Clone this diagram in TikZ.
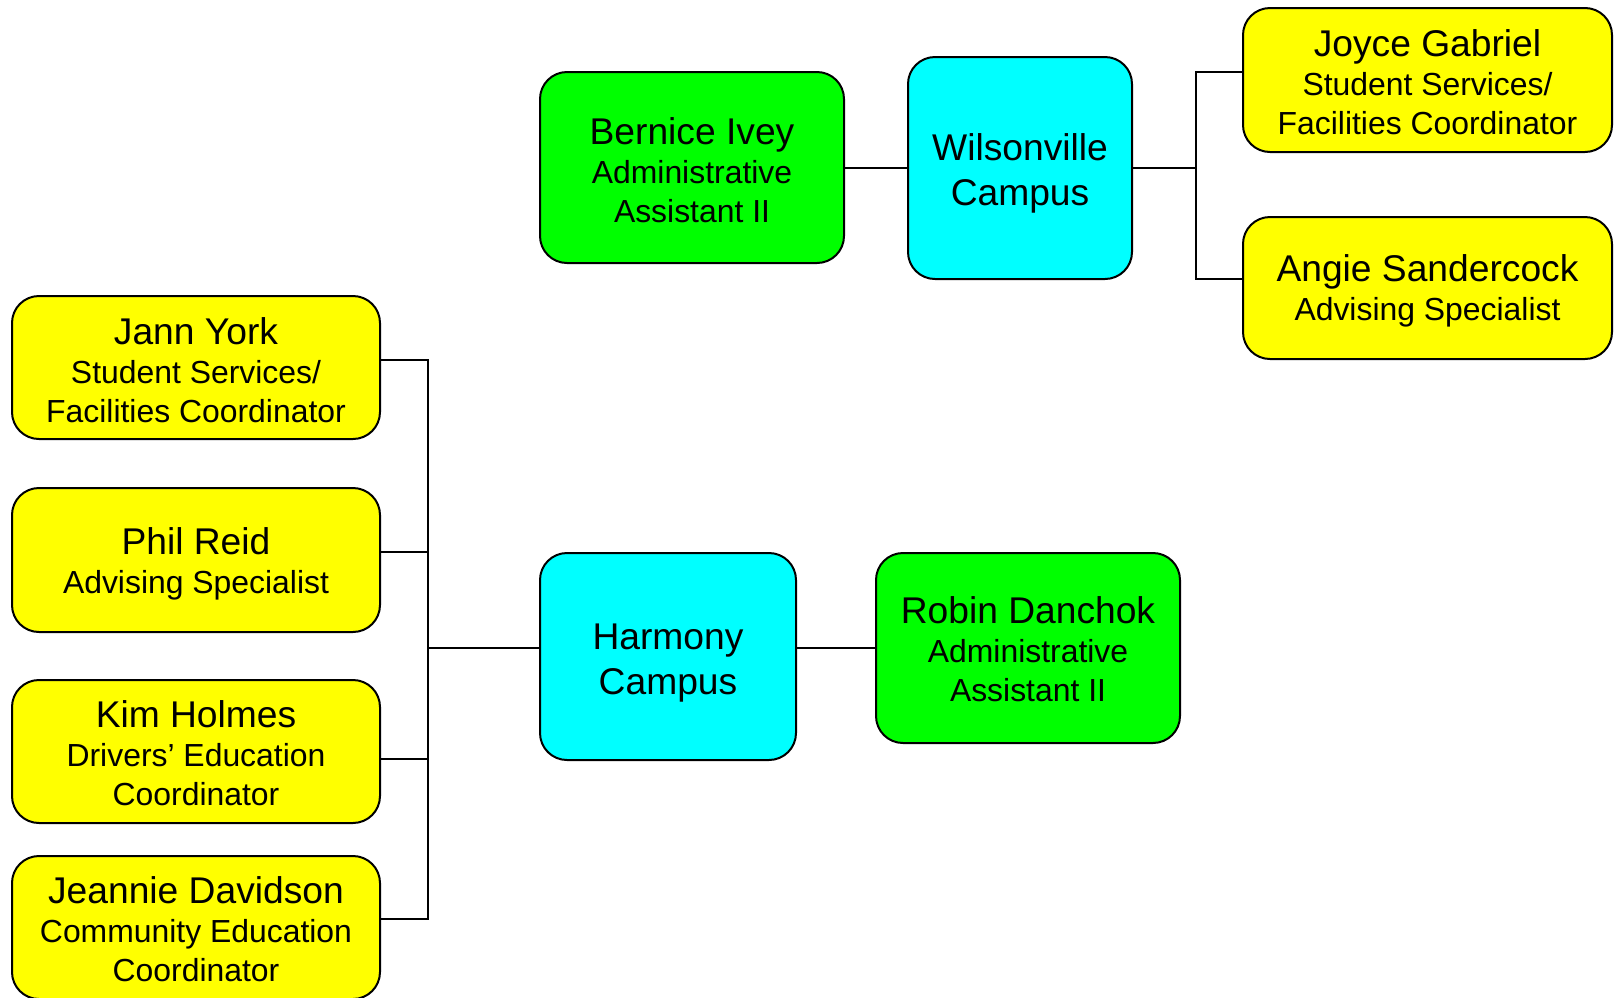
\documentclass[tikz,border=0pt]{standalone}
\usepackage{fontspec}
\setmainfont{Liberation Sans}
\definecolor{boxyellow}{HTML}{FFFF00}
\definecolor{boxgreen}{HTML}{00FF00}
\definecolor{boxcyan}{HTML}{00FFFF}
% larger first-line font for names
\newcommand{\namefont}{\fontsize{37.2}{40}\selectfont}
% invisible strut that lowers a card's text block
\newcommand{\lowered}[1]{\rule{0pt}{#1}}
\begin{document}
\begin{tikzpicture}[x=1pt,y=-1pt,
  card/.style={draw=black, line width=2pt, rounded corners=27pt, inner sep=0pt,
    align=center, font=\fontsize{31.9}{39}\selectfont},
  staff/.style={card, fill=boxyellow, minimum width=368pt, minimum height=143pt},
  assistant/.style={card, fill=boxgreen, minimum width=304pt, minimum height=191pt},
  campus/.style={card, fill=boxcyan, font=\fontsize{37.2}{45}\selectfont},
  link/.style={draw=black, line width=2pt}]
\useasboundingbox (0,0) rectangle (1614,997);

% Wilsonville group
\node[assistant] (bernice) at (692,167.5) {\lowered{32pt}{\namefont Bernice Ivey}\\Administrative\\Assistant II};
\node[campus, minimum width=224pt, minimum height=222pt] (wilson) at (1020,168) {\lowered{37pt}Wilsonville\\Campus};
\node[staff, minimum width=369pt, minimum height=144pt] (joyce) at (1427.5,80) {\lowered{31pt}{\namefont Joyce Gabriel}\\Student Services/\\Facilities Coordinator};
\node[staff, minimum width=369pt, minimum height=142pt] (angie) at (1427.5,288) {\lowered{33pt}{\namefont Angie Sandercock}\\Advising Specialist};

% Harmony group
\node[staff] (jann) at (196,367.5) {\lowered{32pt}{\namefont Jann York}\\Student Services/\\Facilities Coordinator};
\node[staff, minimum height=144pt] (phil) at (196,560) {\lowered{34pt}{\namefont Phil Reid}\\Advising Specialist};
\node[staff] (kim) at (196,751.5) {\lowered{31pt}{\namefont Kim Holmes}\\Drivers’ Education\\Coordinator};
\node[staff] (jeannie) at (196,927.5) {\lowered{31pt}{\namefont Jeannie Davidson}\\Community Education\\Coordinator};
\node[campus, minimum width=256pt, minimum height=207pt] (harmony) at (668,656.5) {\lowered{39pt}Harmony\\Campus};
\node[assistant, minimum height=190pt] (robin) at (1028,648) {\lowered{30pt}{\namefont Robin Danchok}\\Administrative\\Assistant II};

% branch points
\coordinate (wj) at (1196,168);
\coordinate (wtop) at (1196,72);
\coordinate (wbot) at (1196,279);
\coordinate (hj) at (428,648);
\coordinate (hjann) at (428,360);
\coordinate (hphil) at (428,552);
\coordinate (hkim) at (428,759);
\coordinate (hjean) at (428,919);

% Wilsonville connectors
\draw[link] (bernice.east |- wj) -- (wilson.west |- wj);
\draw[link] (wilson.east |- wj) -- (wj);
\draw[link] (joyce.west |- wtop) -- (wtop) -- (wbot) -- (angie.west |- wbot);

% Harmony connectors
\draw[link] (jann.east |- hjann) -- (hjann) -- (hjean) -- (jeannie.east |- hjean);
\draw[link] (phil.east |- hphil) -- (hphil);
\draw[link] (kim.east |- hkim) -- (hkim);
\draw[link] (harmony.west |- hj) -- (hj);
\draw[link] (harmony.east |- hj) -- (robin.west |- hj);
\end{tikzpicture}
\end{document}
